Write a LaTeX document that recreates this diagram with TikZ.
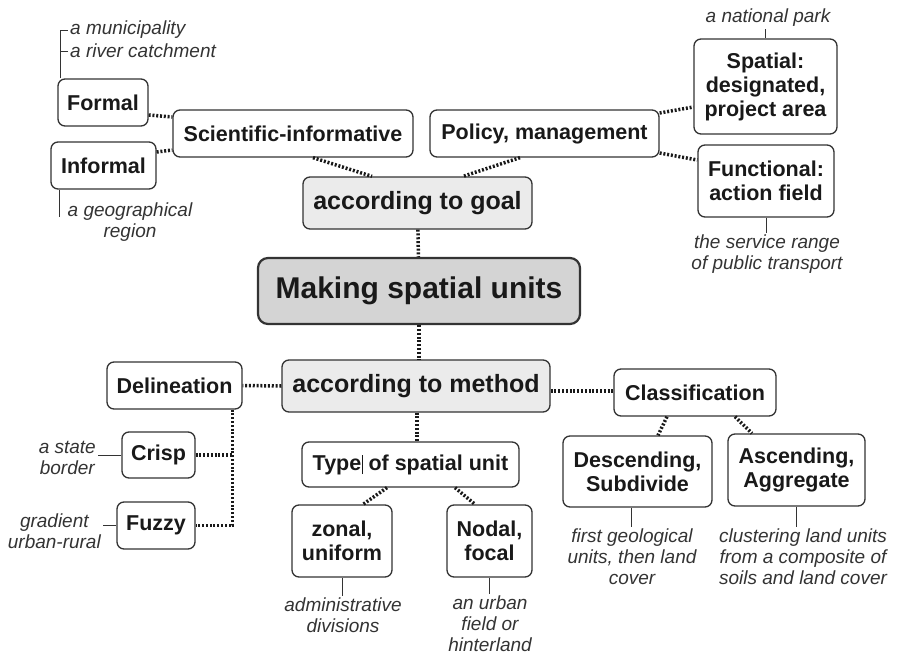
\documentclass[tikz,border=0pt]{standalone}
\usepackage{fontspec}
\setmainfont{Liberation Sans}
\usepackage{tikz}
\definecolor{LGray}{rgb}{0.92,0.92,0.92}
\definecolor{MGray}{rgb}{0.83,0.83,0.83}
\definecolor{DGray}{rgb}{0.2,0.2,0.2}
\tikzset{
  unit/.style = {draw=DGray, line width=1.3pt, rounded corners=7pt, fill=white, align=center, inner sep=0pt, text=black!90, font=\bfseries\fontsize{21.5}{24}\selectfont},
  branch/.style = {unit, fill=LGray, font=\bfseries\fontsize{25}{28}\selectfont},
  root/.style = {unit, fill=MGray, line width=2.2pt, rounded corners=10pt, font=\bfseries\fontsize{30}{33}\selectfont},
  note/.style = {align=center, inner sep=2pt, text=DGray, font=\itshape\fontsize{19}{21}\selectfont},
  link/.style = {draw=black!90, line width=3.5pt, dash pattern=on 2pt off 1.8pt},
  tick/.style = {draw=DGray, line width=0.9pt}
}

\begin{document}
\begin{tikzpicture}[x=1pt, y=-1pt]
\useasboundingbox (0,0) rectangle (897,656);

\node[root, minimum width=322pt, minimum height=66pt] (main) at (419,291) {Making spatial units};
\node[branch, minimum width=229pt, minimum height=52pt] (goal) at (417.5,203) {according to goal};
\node[branch, minimum width=268pt, minimum height=52pt] (method) at (416,386) {according to method};

\node[unit, minimum width=240pt, minimum height=47pt] (sci) at (293,133.5) {Scientific-informative};
\node[unit, minimum width=229pt, minimum height=47pt] (policy) at (544.5,133.5) {Policy, management};
\node[unit, minimum width=90pt, minimum height=47pt] (formal) at (103,102.5) {Formal};
\node[unit, minimum width=105pt, minimum height=47pt] (informal) at (103.5,165.5) {Informal};
\node[unit, minimum width=143pt, minimum height=95pt] (spatial) at (765.5,86.5) {Spatial:\\designated,\\project area};
\node[unit, minimum width=136pt, minimum height=72pt] (functional) at (766,181) {Functional:\\action field};

\node[unit, minimum width=135pt, minimum height=47pt] (delin) at (174.5,385.5) {Delineation};
\node[unit, minimum width=73pt, minimum height=46pt] (crisp) at (158.5,455) {Crisp};
\node[unit, minimum width=78pt, minimum height=47pt] (fuzzy) at (156,525.5) {Fuzzy};
\node[unit, minimum width=217pt, minimum height=45pt] (type) at (410.5,464.5) {Type\hspace{0.5pt}\rule[-4pt]{0.7pt}{19pt} of spatial unit};
\node[unit, minimum width=100pt, minimum height=72pt] (zonal) at (342,541) {zonal,\\uniform};
\node[unit, minimum width=85pt, minimum height=72pt] (nodal) at (489.5,541) {Nodal,\\focal};
\node[unit, minimum width=162pt, minimum height=47pt] (classif) at (695,392.5) {Classification};
\node[unit, minimum width=149pt, minimum height=71pt] (desc) at (637.5,471.5) {Descending,\\Subdivide};
\node[unit, minimum width=137pt, minimum height=72pt] (asc) at (796.5,470) {Ascending,\\Aggregate};

\node[note, anchor=west] (muni) at (68,30) {a municipality};
\node[note, anchor=west] (river) at (68,51) {a river catchment};
\node[note, anchor=north] (geo) at (130,201) {a geographical\\region};
\node[note, anchor=south] (park) at (768,29) {a national park};
\node[note, anchor=north] (transport) at (767,233) {the service range\\of public transport};
\node[note, anchor=east] (state) at (98,458) {a state\\border};
\node[note, anchor=east] (gradient) at (103,531) {gradient\\urban-rural};
\node[note, anchor=north] (admin) at (343,596) {administrative\\divisions};
\node[note, anchor=north] (urban) at (490,594) {an urban\\field or\\hinterland};
\node[note, anchor=north] (geology) at (632,527) {first geological\\units, then land\\cover};
\node[note, anchor=north] (soils) at (803,527) {clustering land units\\from a composite of\\soils and land cover};

\coordinate (fcorner) at ([xshift=3pt]formal.north west);
\coordinate (icorner) at ([xshift=9pt]informal.south west);
\coordinate (dtrunk) at ([xshift=58pt]delin.south);

\draw[link] (goal) -- (main);
\draw[link] (main) -- (main.south |- method.north);
\draw[link] ([xshift=20pt]sci.south) -- ([xshift=-45.5pt]goal.north);
\draw[link] ([xshift=-24.5pt]policy.south) -- ([xshift=45.5pt]goal.north);
\draw[link] ([yshift=-12.5pt]formal.east) -- ([yshift=16.5pt]sci.west);
\draw[link] ([yshift=13.5pt]informal.east) -- ([yshift=-16.5pt]sci.west);
\draw[link] ([yshift=20.5pt]policy.east) -- ([yshift=-20.5pt]spatial.west);
\draw[link] ([yshift=-19.5pt]policy.east) -- ([yshift=21pt]functional.west);
\draw[link] (method.west) -- (delin.east);
\draw[link] ([yshift=-5pt]method.east) -- ([yshift=-5pt]method.east -| classif.west);
\draw[link] (dtrunk) |- (fuzzy.east);
\draw[link] (crisp.east) -- (crisp.east -| dtrunk);
\draw[link] ([xshift=1pt]method.south) -- ([xshift=1pt]method.south |- type.north);
\draw[link] ([xshift=-23.5pt]type.south) -- ([xshift=21pt]zonal.north);
\draw[link] ([xshift=44.5pt]type.south) -- ([xshift=-14.5pt]nodal.north);
\draw[link] ([xshift=-28pt]classif.south) -- ([xshift=20.5pt]desc.north);
\draw[link] ([xshift=40pt]classif.south) -- ([xshift=-44.5pt]asc.north);

\draw[tick] (fcorner) |- (muni.west);
\draw[tick] (river.west) -- (river.west -| fcorner);
\draw[tick] (icorner) -- ([yshift=6pt]icorner |- geo.center);
\draw[tick] (spatial.north) -- (spatial.north |- park.south);
\draw[tick] (functional.south) -- (functional.south |- transport.north);
\draw[tick] (crisp.west) -- (crisp.west -| state.east);
\draw[tick] (fuzzy.west) -- (fuzzy.west -| gradient.east);
\draw[tick] (zonal.south) -- (zonal.south |- admin.north);
\draw[tick] (nodal.south) -- (nodal.south |- urban.north);
\draw[tick] ([xshift=-6pt]desc.south) -- ([xshift=-6pt]desc.south |- geology.north);
\draw[tick] (asc.south) -- (asc.south |- soils.north);

\end{tikzpicture}
\end{document}
